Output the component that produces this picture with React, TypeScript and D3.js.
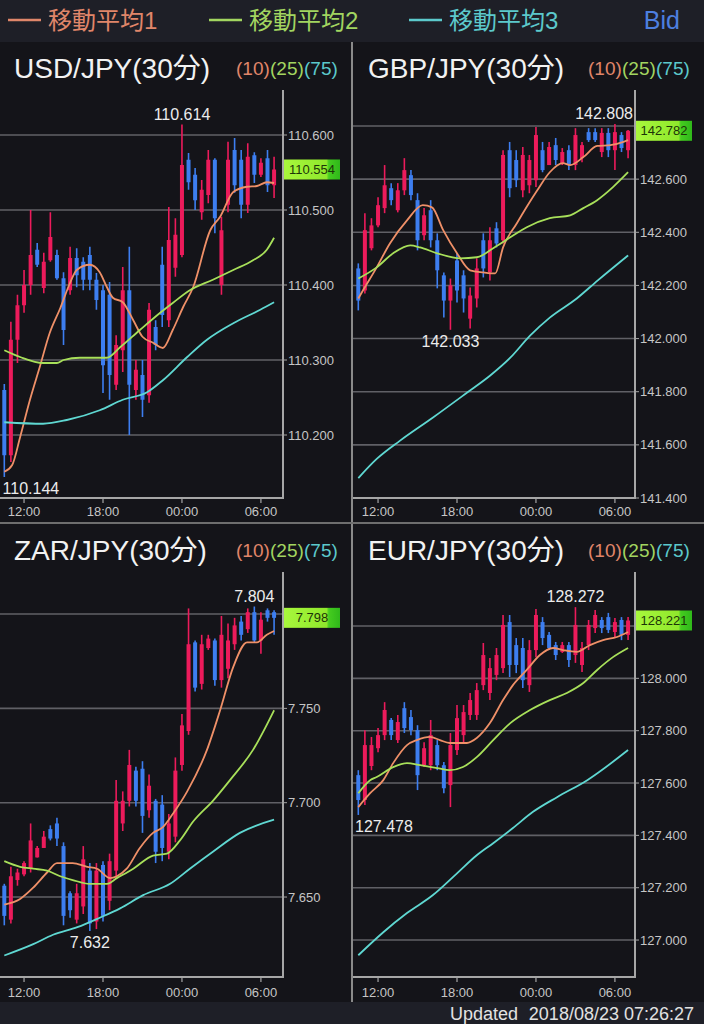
import React from 'react';
import * as d3 from 'd3';

// ---------- data ----------
const legendNames = ['移動平均1', '移動平均2', '移動平均3'];
const maPeriods = ['(10)', '(25)', '(75)'];
const timeLabels = ['12:00', '18:00', '00:00', '06:00'];
const timeTickIndex = [3, 15, 27, 39];
const pairNames = ['USD/JPY(30分)', 'GBP/JPY(30分)', 'ZAR/JPY(30分)', 'EUR/JPY(30分)'];
const updatedLabel = 'Updated';
const updatedTime = '2018/08/23 07:26:27';

// candles: [open, high, low, close]
const usdCandles = [
  [110.260, 110.268, 110.144, 110.173], [110.173, 110.351, 110.164, 110.327], [110.327, 110.387, 110.296, 110.373],
  [110.373, 110.420, 110.363, 110.400], [110.400, 110.500, 110.387, 110.440], [110.447, 110.456, 110.424, 110.427],
  [110.396, 110.443, 110.389, 110.431], [110.433, 110.497, 110.431, 110.464], [110.440, 110.447, 110.407, 110.409],
  [110.409, 110.417, 110.320, 110.340], [110.393, 110.451, 110.387, 110.436], [110.436, 110.449, 110.397, 110.413],
  [110.431, 110.437, 110.393, 110.407], [110.440, 110.451, 110.393, 110.407], [110.407, 110.416, 110.367, 110.380],
  [110.393, 110.400, 110.256, 110.293], [110.387, 110.404, 110.247, 110.280], [110.267, 110.333, 110.260, 110.320],
  [110.313, 110.424, 110.284, 110.393], [110.393, 110.451, 110.200, 110.267], [110.260, 110.300, 110.247, 110.287],
  [110.280, 110.300, 110.224, 110.247], [110.253, 110.376, 110.243, 110.367], [110.344, 110.353, 110.313, 110.320],
  [110.427, 110.451, 110.344, 110.360], [110.353, 110.504, 110.344, 110.460], [110.423, 110.489, 110.411, 110.467],
  [110.440, 110.614, 110.437, 110.560], [110.567, 110.576, 110.527, 110.537], [110.547, 110.556, 110.500, 110.513],
  [110.497, 110.540, 110.487, 110.527], [110.520, 110.580, 110.509, 110.567], [110.567, 110.569, 110.469, 110.489],
  [110.400, 110.491, 110.387, 110.473], [110.507, 110.591, 110.497, 110.567], [110.580, 110.596, 110.523, 110.533],
  [110.567, 110.580, 110.489, 110.507], [110.507, 110.589, 110.496, 110.571], [110.573, 110.577, 110.536, 110.547],
  [110.547, 110.569, 110.544, 110.563], [110.569, 110.580, 110.524, 110.533], [110.533, 110.571, 110.516, 110.554],
];
const usdMa1 = [[0, 110.151], [1.2, 110.160], [2.4, 110.197], [3.9, 110.247], [5.4, 110.291], [6.9, 110.336], [8.5, 110.369], [10, 110.403], [11, 110.420], [13, 110.427], [14.5, 110.417], [15.6, 110.397], [16.5, 110.383], [18, 110.377], [19.6, 110.353], [21, 110.331], [22.6, 110.323], [24.1, 110.316], [25.6, 110.340], [27.2, 110.371], [28.7, 110.397], [31.3, 110.473], [32.8, 110.491], [34.8, 110.524], [36.9, 110.531], [38.4, 110.532], [39.9, 110.537], [41, 110.536]];
const usdMa2 = [[0, 110.313], [2.4, 110.304], [5.9, 110.296], [8, 110.296], [9, 110.300], [11.5, 110.303], [15.6, 110.303], [17.6, 110.317], [20.6, 110.340], [23.7, 110.363], [25.6, 110.376], [28.2, 110.393], [31.7, 110.407], [34.8, 110.420], [37.8, 110.433], [39.9, 110.447], [41, 110.463]];
const usdMa3 = [[0, 110.217], [5.9, 110.215], [9.5, 110.220], [14.5, 110.233], [18, 110.247], [21.7, 110.257], [24.1, 110.273], [27.8, 110.304], [30.8, 110.327], [34.8, 110.349], [38.9, 110.367], [41, 110.377]];
const usdTicks = [110.2, 110.3, 110.4, 110.5, 110.6];
const usdDomain = [110.116, 110.66];

const gbpCandles = [
  [142.264, 142.283, 142.106, 142.143], [142.181, 142.472, 142.170, 142.408], [142.340, 142.453, 142.332, 142.426],
  [142.426, 142.532, 142.419, 142.502], [142.491, 142.653, 142.472, 142.577], [142.566, 142.585, 142.502, 142.521],
  [142.483, 142.585, 142.475, 142.558], [142.558, 142.679, 142.540, 142.634], [142.615, 142.634, 142.521, 142.540],
  [142.521, 142.547, 142.332, 142.370], [142.389, 142.491, 142.370, 142.464], [142.483, 142.521, 142.343, 142.370],
  [142.370, 142.396, 142.189, 142.257], [142.238, 142.249, 142.079, 142.143], [142.143, 142.226, 142.033, 142.200],
  [142.294, 142.321, 142.136, 142.181], [142.238, 142.257, 142.098, 142.151], [142.075, 142.192, 142.038, 142.162],
  [142.151, 142.302, 142.117, 142.264], [142.370, 142.396, 142.230, 142.264], [142.249, 142.419, 142.219, 142.370],
  [142.415, 142.438, 142.343, 142.358], [142.370, 142.709, 142.358, 142.691], [142.709, 142.740, 142.532, 142.566],
  [142.672, 142.709, 142.570, 142.596], [142.558, 142.721, 142.532, 142.691], [142.577, 142.691, 142.547, 142.672],
  [142.596, 142.796, 142.570, 142.766], [142.709, 142.740, 142.626, 142.634], [142.653, 142.740, 142.653, 142.721],
  [142.728, 142.755, 142.653, 142.672], [142.660, 142.717, 142.653, 142.702], [142.709, 142.728, 142.634, 142.653],
  [142.653, 142.792, 142.634, 142.766], [142.679, 142.740, 142.664, 142.728], [142.777, 142.792, 142.740, 142.747],
  [142.777, 142.792, 142.740, 142.747], [142.702, 142.792, 142.683, 142.774], [142.774, 142.792, 142.683, 142.709],
  [142.709, 142.808, 142.634, 142.777], [142.766, 142.777, 142.702, 142.717], [142.709, 142.785, 142.679, 142.782],
];
const gbpMa1 = [[0, 142.151], [0.7, 142.181], [2.8, 142.268], [4.8, 142.358], [7.4, 142.445], [9.8, 142.502], [11.2, 142.494], [12.9, 142.408], [15, 142.321], [17, 142.257], [19, 142.249], [20.8, 142.245], [22, 142.343], [24.1, 142.434], [27.2, 142.558], [29.1, 142.626], [31.1, 142.660], [32.2, 142.653], [34.2, 142.683], [36.3, 142.725], [38.3, 142.728], [40.3, 142.740], [41, 142.747]];
const gbpMa2 = [[0, 142.226], [2.8, 142.268], [5.3, 142.321], [7.9, 142.351], [9.4, 142.343], [12, 142.321], [15.5, 142.302], [18, 142.306], [20.5, 142.340], [23.1, 142.381], [25.6, 142.419], [29.1, 142.453], [32.2, 142.464], [34.2, 142.491], [36.3, 142.521], [38.7, 142.570], [41, 142.626]];
const gbpMa3 = [[0, 141.475], [2.8, 141.547], [6.3, 141.615], [11.3, 141.702], [16.5, 141.796], [20, 141.860], [23.1, 141.928], [26.1, 142.011], [29.1, 142.079], [33.2, 142.151], [36.4, 142.219], [41, 142.313]];
const gbpTicks = [141.4, 141.6, 141.8, 142.0, 142.2, 142.4, 142.6, 142.8];
const gbpDomain = [141.4, 142.9355];

const zarCandles = [
  [7.656, 7.657, 7.635, 7.640], [7.638, 7.666, 7.636, 7.661], [7.659, 7.665, 7.656, 7.663], [7.662, 7.669, 7.661, 7.668],
  [7.665, 7.689, 7.663, 7.680], [7.671, 7.677, 7.671, 7.676], [7.676, 7.685, 7.676, 7.682], [7.686, 7.688, 7.680, 7.681],
  [7.689, 7.692, 7.677, 7.681], [7.677, 7.679, 7.635, 7.640], [7.652, 7.653, 7.639, 7.643], [7.638, 7.657, 7.636, 7.652],
  [7.645, 7.677, 7.641, 7.670], [7.664, 7.668, 7.632, 7.636], [7.637, 7.668, 7.633, 7.664], [7.667, 7.669, 7.637, 7.640],
  [7.648, 7.673, 7.643, 7.669], [7.664, 7.712, 7.660, 7.701], [7.689, 7.706, 7.685, 7.701], [7.701, 7.728, 7.698, 7.720],
  [7.717, 7.719, 7.698, 7.701], [7.718, 7.722, 7.684, 7.693], [7.696, 7.715, 7.692, 7.709], [7.701, 7.702, 7.668, 7.674],
  [7.699, 7.704, 7.669, 7.676], [7.674, 7.694, 7.670, 7.689], [7.682, 7.724, 7.679, 7.717], [7.720, 7.747, 7.717, 7.741],
  [7.738, 7.803, 7.736, 7.784], [7.785, 7.786, 7.759, 7.761], [7.763, 7.789, 7.760, 7.784], [7.782, 7.789, 7.781, 7.787],
  [7.786, 7.787, 7.762, 7.765], [7.765, 7.799, 7.761, 7.789], [7.771, 7.795, 7.766, 7.786], [7.784, 7.798, 7.781, 7.794],
  [7.796, 7.799, 7.786, 7.789], [7.792, 7.803, 7.790, 7.801], [7.801, 7.804, 7.785, 7.786], [7.786, 7.801, 7.779, 7.797],
  [7.802, 7.803, 7.796, 7.798], [7.801, 7.802, 7.789, 7.798],
];
const zarMa1 = [[0, 7.646], [2.4, 7.649], [4.4, 7.655], [6.5, 7.663], [8, 7.668], [10.4, 7.668], [12.6, 7.666], [14.1, 7.665], [16.1, 7.660], [17.1, 7.661], [18.6, 7.665], [20.6, 7.676], [22.6, 7.684], [24.1, 7.687], [25.6, 7.694], [27.8, 7.706], [30.8, 7.728], [32.8, 7.749], [34.8, 7.772], [36.9, 7.785], [38.4, 7.785], [39.9, 7.789], [41, 7.791]];
const zarMa2 = [[0, 7.669], [2.4, 7.666], [4.4, 7.665], [6.5, 7.664], [8.5, 7.661], [10.4, 7.659], [13, 7.657], [15.6, 7.657], [17.1, 7.660], [19.6, 7.665], [22.6, 7.672], [24.7, 7.673], [26.7, 7.680], [28.7, 7.690], [31.7, 7.701], [34.3, 7.712], [37.8, 7.728], [41, 7.749]];
const zarMa3 = [[0, 7.619], [4.4, 7.625], [7.4, 7.630], [11.1, 7.634], [14.5, 7.639], [17.6, 7.644], [21.1, 7.651], [25.2, 7.657], [28.2, 7.665], [31.7, 7.674], [35.8, 7.684], [41, 7.691]];
const zarTicks = [7.65, 7.70, 7.75, 7.80];
const zarDomain = [7.6076, 7.8223];

const eurCandles = [
  [127.630, 127.649, 127.478, 127.535], [127.535, 127.802, 127.516, 127.745], [127.665, 127.776, 127.649, 127.745],
  [127.733, 127.810, 127.718, 127.783], [127.783, 127.909, 127.764, 127.879], [127.841, 127.848, 127.764, 127.783],
  [127.764, 127.860, 127.753, 127.833], [127.886, 127.909, 127.791, 127.810], [127.852, 127.879, 127.783, 127.802],
  [127.802, 127.821, 127.573, 127.630], [127.668, 127.756, 127.661, 127.733], [127.668, 127.841, 127.649, 127.783],
  [127.745, 127.764, 127.649, 127.668], [127.668, 127.680, 127.561, 127.580], [127.592, 127.791, 127.508, 127.745],
  [127.726, 127.898, 127.707, 127.848], [127.783, 127.898, 127.753, 127.871], [127.860, 127.944, 127.841, 127.917],
  [127.860, 127.982, 127.841, 127.955], [127.974, 128.135, 127.955, 128.089], [127.944, 128.078, 127.917, 128.039],
  [128.013, 128.116, 127.993, 128.089], [128.039, 128.242, 128.020, 128.204], [128.215, 128.242, 128.005, 128.051],
  [128.127, 128.154, 128.020, 128.051], [128.116, 128.154, 127.963, 127.993], [127.974, 128.146, 127.948, 128.108],
  [128.108, 128.265, 128.081, 128.242], [128.215, 128.234, 128.127, 128.154], [128.166, 128.177, 128.108, 128.116],
  [128.127, 128.139, 128.070, 128.089], [128.101, 128.139, 128.097, 128.127], [128.127, 128.139, 128.043, 128.070],
  [128.089, 128.272, 128.059, 128.204], [128.051, 128.139, 128.024, 128.116], [128.127, 128.223, 128.108, 128.204],
  [128.192, 128.261, 128.173, 128.242], [128.223, 128.234, 128.173, 128.192], [128.234, 128.250, 128.173, 128.185],
  [128.177, 128.231, 128.158, 128.215], [128.223, 128.234, 128.146, 128.166], [128.166, 128.234, 128.146, 128.221],
];
const eurMa1 = [[0, 127.508], [1.8, 127.561], [3.8, 127.611], [5.3, 127.676], [7.4, 127.745], [8.9, 127.764], [10.9, 127.776], [12.4, 127.764], [13.9, 127.753], [16.5, 127.753], [18, 127.772], [20, 127.829], [22, 127.917], [23.5, 127.974], [25.6, 128.032], [27.6, 128.089], [29.6, 128.116], [31.1, 128.108], [33.2, 128.101], [35.2, 128.127], [37.2, 128.146], [39.3, 128.158], [41, 128.177]];
const eurMa2 = [[0, 127.561], [1.8, 127.611], [2.8, 127.623], [5.3, 127.661], [7.4, 127.676], [9.4, 127.668], [12, 127.657], [13.9, 127.649], [15.9, 127.661], [18, 127.699], [20.5, 127.764], [23.1, 127.829], [26.1, 127.879], [29.1, 127.917], [31.7, 127.944], [34.2, 127.982], [36.3, 128.032], [38.7, 128.081], [41, 128.116]];
const eurMa3 = [[0, 126.942], [3.8, 127.030], [7.4, 127.103], [11.3, 127.171], [15, 127.255], [18, 127.324], [20.5, 127.370], [23.5, 127.428], [26.5, 127.489], [30.2, 127.546], [34.8, 127.611], [41, 127.726]];
const eurTicks = [127.0, 127.2, 127.4, 127.6, 127.8, 128.0, 128.2];
const eurDomain = [126.8588, 128.4063];

// ---------- styling ----------
const BG = '#141419';
const BAR = '#1e1f27';
const UP = '#ec1b5b';
const DOWN = '#3d7ef0';
const MA_COLORS = ['#ef9068', '#a8e05a', '#5fd8d2'];
const LEGEND_COLORS = ['#e0866a', '#a2d560', '#5cc9cc'];
const GRID = '#606066';
const BORDER = '#a6a6a6';
const AXIS_TEXT = '#c6c6c6';
const FONT = '"Liberation Sans", Arimo, "Noto Sans CJK JP", sans-serif';
const STEP = 6.58;

const cols = [
  { plotLeft: 0, plotRight: 283, firstX: 4.3, headerX: 14, maX: 236 },
  { plotLeft: 353, plotRight: 635, firstX: 358.3, headerX: 368, maX: 588 },
];
const rows = [
  { headerY: 68, top: 90, bottom: 498, labelY: 511 },
  { headerY: 550, top: 572, bottom: 977, labelY: 992 },
];

const panels = [
  { name: pairNames[0], candles: usdCandles, mas: [usdMa1, usdMa2, usdMa3], ticks: usdTicks, domain: usdDomain, col: 0, row: 0 },
  { name: pairNames[1], candles: gbpCandles, mas: [gbpMa1, gbpMa2, gbpMa3], ticks: gbpTicks, domain: gbpDomain, col: 1, row: 0 },
  { name: pairNames[2], candles: zarCandles, mas: [zarMa1, zarMa2, zarMa3], ticks: zarTicks, domain: zarDomain, col: 0, row: 1 },
  { name: pairNames[3], candles: eurCandles, mas: [eurMa1, eurMa2, eurMa3], ticks: eurTicks, domain: eurDomain, col: 1, row: 1 },
];

const charW = (ch: string) => (ch === '.' ? 0.278 : 0.556);
const textWidth = (s: string, size: number) => s.split('').reduce((a, c) => a + charW(c), 0) * size;

function Panel({ p, idx }: { p: any; idx: number }) {
  const col = cols[p.col];
  const row = rows[p.row];
  const x = d3.scaleLinear().domain([0, 41]).range([col.firstX, col.firstX + 41 * STEP]);
  const y = d3.scaleLinear().domain(p.domain).range([row.bottom, row.top]);
  const fmt = d3.format('.3f');
  const line = d3
    .line<number[]>()
    .x((d) => x(d[0]))
    .y((d) => y(d[1]))
    .curve(d3.curveMonotoneX);
  const candles: number[][] = p.candles;
  const hiIdx = d3.maxIndex(candles, (c) => c[1]);
  const loIdx = d3.minIndex(candles, (c) => c[2]);
  const hiVal = candles[hiIdx][1];
  const loVal = candles[loIdx][2];
  const last = candles[candles.length - 1][3];
  const clipId = `clip-${idx}`;
  const gradId = `grad-${idx}`;
  const lblSize = 16;
  const place = (i: number, s: string) => {
    const w = textWidth(s, lblSize);
    let cx = x(i);
    cx = Math.max(col.plotLeft + 2 + w / 2, Math.min(col.plotRight - 2 - w / 2, cx));
    return cx;
  };
  const hiStr = fmt(hiVal);
  const loStr = fmt(loVal);
  const bodyW = 4;
  const boxW = 56;
  const boxH = 20;
  const visibleTicks = p.ticks.filter((t: number) => Math.abs(y(t) - y(last)) > 17);
  return (
    <g>
      <defs>
        <clipPath id={clipId}>
          <rect x={col.plotLeft} y={row.top} width={col.plotRight - col.plotLeft} height={row.bottom - row.top} />
        </clipPath>
        <linearGradient id={gradId} x1="0" x2="1" y1="0" y2="0">
          <stop offset="0" stopColor="#a8f73c" />
          <stop offset="0.76" stopColor="#8fe82c" />
          <stop offset="0.8" stopColor="#45cc1f" />
          <stop offset="1" stopColor="#2fb81a" />
        </linearGradient>
      </defs>
      {/* header */}
      <text x={col.headerX} y={row.headerY + 10} fill="#f2f2f2" fontSize={28} fontFamily={FONT}>
        {p.name}
      </text>
      {maPeriods.map((m, k) => (
        <text key={m} x={col.maX + k * 34} y={row.headerY + 7} fill={LEGEND_COLORS[k]} fontSize={19} fontFamily={FONT}>
          {m}
        </text>
      ))}
      {/* grid */}
      {p.ticks.map((t: number) => (
        <line key={t} x1={col.plotLeft} x2={col.plotRight} y1={y(t)} y2={y(t)} stroke={GRID} strokeWidth={1.6} />
      ))}
      {/* y-axis tick marks and labels */}
      {p.ticks.map((t: number) => (
        <line key={'m' + t} x1={col.plotRight} x2={col.plotRight + 4} y1={y(t)} y2={y(t)} stroke={BORDER} strokeWidth={1} />
      ))}
      {visibleTicks.map((t: number) => (
        <text key={'l' + t} x={col.plotRight + 5} y={y(t) + 4.6} fill={AXIS_TEXT} fontSize={13} fontFamily={FONT}>
          {fmt(t)}
        </text>
      ))}
      <g clipPath={`url(#${clipId})`}>
        {candles.map((c, i) => {
          const [o, h, l, cl] = c;
          const up = cl >= o;
          const color = up ? UP : DOWN;
          const yTop = y(Math.max(o, cl));
          const yBot = y(Math.min(o, cl));
          return (
            <g key={i}>
              <line x1={x(i)} x2={x(i)} y1={y(h)} y2={y(l)} stroke={color} strokeWidth={1.6} />
              <rect x={x(i) - bodyW / 2} y={yTop} width={bodyW} height={Math.max(1.5, yBot - yTop)} fill={color} />
            </g>
          );
        })}
        {p.mas.map((m: number[][], k: number) => (
          <path key={k} d={line(m) || ''} fill="none" stroke={MA_COLORS[k]} strokeWidth={1.8} />
        ))}
      </g>
      {/* high / low labels */}
      <text x={place(hiIdx, hiStr)} y={y(hiVal) - 5} fill="#ececec" fontSize={lblSize} fontFamily={FONT} textAnchor="middle">
        {hiStr}
      </text>
      <text x={place(loIdx, loStr)} y={y(loVal) + 17} fill="#ececec" fontSize={lblSize} fontFamily={FONT} textAnchor="middle">
        {loStr}
      </text>
      {/* borders */}
      <line x1={col.plotRight} x2={col.plotRight} y1={row.top} y2={row.bottom + 1} stroke={BORDER} strokeWidth={2} />
      <line x1={col.plotLeft} x2={col.plotRight + 1} y1={row.bottom} y2={row.bottom} stroke={BORDER} strokeWidth={2} />
      {/* x ticks */}
      {timeTickIndex.map((ti, k) => (
        <g key={ti}>
          <line x1={x(ti)} x2={x(ti)} y1={row.bottom} y2={row.bottom + 5} stroke={BORDER} strokeWidth={1.2} />
          <text x={x(ti)} y={row.labelY + 5} fill={AXIS_TEXT} fontSize={13} fontFamily={FONT} textAnchor="middle">
            {timeLabels[k]}
          </text>
        </g>
      ))}
      {/* current price box */}
      <rect x={col.plotRight + 1} y={y(last) - boxH / 2} width={boxW} height={boxH} fill={`url(#${gradId})`} />
      <text x={col.plotRight + 1 + boxW / 2} y={y(last) + 4.6} fill="#1c3408" fontSize={13} fontFamily={FONT} textAnchor="middle">
        {fmt(last)}
      </text>
    </g>
  );
}

export default function App() {
  return (
    <svg width={704} height={1024} style={{ position: 'absolute', left: 0, top: 0, display: 'block' }}>
      <rect x={0} y={0} width={704} height={1024} fill={BG} />
      <rect x={0} y={0} width={704} height={42} fill={BAR} />
      {legendNames.map((n, k) => {
        const x0 = [8, 209, 409][k];
        return (
          <g key={n}>
            <line x1={x0} x2={x0 + 33} y1={20} y2={20} stroke={LEGEND_COLORS[k]} strokeWidth={2.5} />
            <text x={x0 + 40} y={29} fill={LEGEND_COLORS[k]} fontSize={24} fontFamily={FONT}>
              {n}
            </text>
          </g>
        );
      })}
      <text x={680} y={29} fill="#4d7fe0" fontSize={25} fontFamily={FONT} textAnchor="end">
        Bid
      </text>
      {panels.map((p, i) => (
        <Panel key={i} p={p} idx={i} />
      ))}
      <line x1={352} x2={352} y1={42} y2={1002} stroke="#8a8a8a" strokeWidth={2} />
      <line x1={0} x2={704} y1={523} y2={523} stroke="#6e6e6e" strokeWidth={2} />
      <rect x={0} y={1002} width={704} height={22} fill={BAR} />
      <text x={518} y={1020} fill="#e2e2e2" fontSize={18} fontFamily={FONT} textAnchor="end">
        {updatedLabel}
      </text>
      <text x={694} y={1020} fill="#e2e2e2" fontSize={18} fontFamily={FONT} textAnchor="end">
        {updatedTime}
      </text>
    </svg>
  );
}
